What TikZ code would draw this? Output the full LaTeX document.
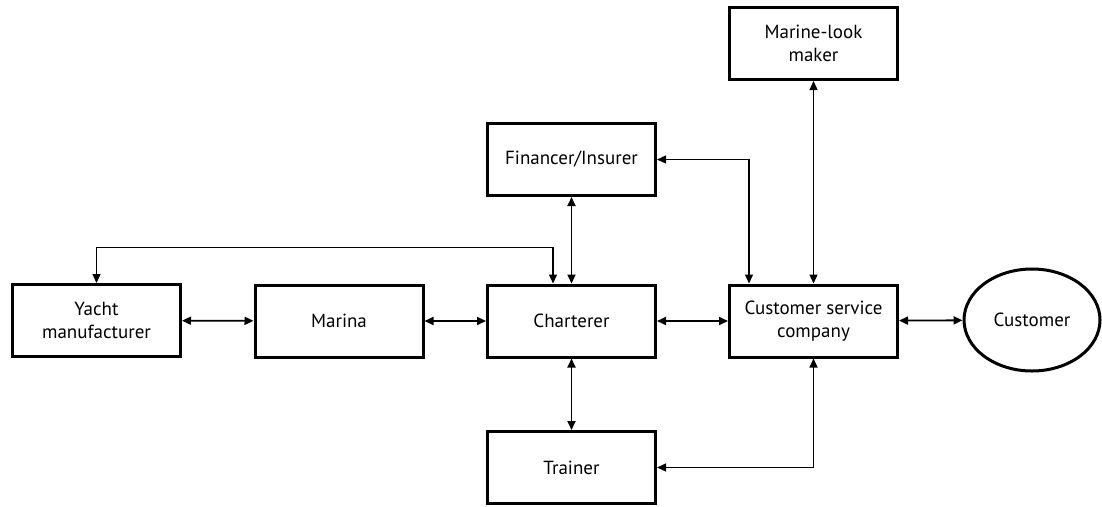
\documentclass[tikz,border=0pt]{standalone}
\usepackage{fontspec}
\setmainfont{PT Sans}
\usepackage{tikz}
\usetikzlibrary{shapes.geometric,arrows.meta,positioning,calc}
\tikzset{
  actor/.style={draw=black,line width=3pt,minimum width=168pt,minimum height=72pt,
    font=\fontsize{19}{23}\selectfont,align=center,inner sep=2pt}
}

\begin{document}
\begin{tikzpicture}[x=1pt,y=-1pt,
  link/.style={{Triangle[length=9pt,width=8pt]}-{Triangle[length=9pt,width=8pt]},line width=1.8pt},
  thinlink/.style={link,line width=1.3pt}
]
  \useasboundingbox (0,0) rectangle (1102,506);
  \node[actor] (yacht) at (96.5,320.5) {Yacht\\manufacturer};
  \node[actor] (marina) at (339,321) {Marina};
  \node[actor] (charter) at (571.5,321) {Charterer};
  \node[actor] (csc) at (813.5,321) {Customer service\\company};
  \node[actor] (fin) at (571.5,159.5) {Financer/Insurer};
  \node[actor] (mlook) at (813.5,43.5) {Marine-look\\maker};
  \node[actor] (trainer) at (571.5,467.5) {Trainer};
  \node[draw=black,line width=3pt,ellipse,minimum width=136pt,minimum height=102pt,
    font=\fontsize{19}{23}\selectfont] (cust) at (1032,320) {Customer};
  \draw[link] (yacht) -- (marina);
  \draw[link] (marina) -- (charter);
  \draw[link] (charter) -- (csc);
  \draw[link] (csc) -- (cust);
  \draw[link] (fin) -- (charter);
  \draw[link] (charter) -- (trainer);
  \draw[thinlink] (mlook) -- (csc);
  \draw[thinlink] ([xshift=-18.5pt]charter.north) -- ++(0,-36) -| (yacht.north);
  \draw[thinlink] (fin.east) -| ([xshift=-64.5pt]csc.north);
  \draw[thinlink] (csc.south) |- (trainer.east);
\end{tikzpicture}
\end{document}
